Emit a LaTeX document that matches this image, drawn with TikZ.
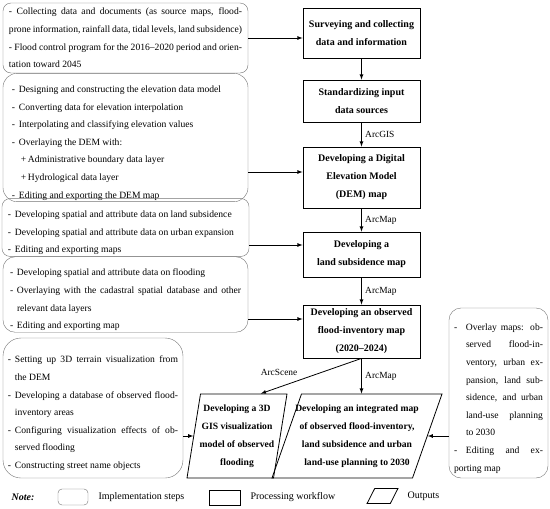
\documentclass[tikz,border=0pt]{standalone}
\usepackage{fontspec}
\setmainfont{Liberation Serif}
\usetikzlibrary{shapes.geometric}
\newcommand{\itm}[2][7pt]{\par\noindent\hangindent=#1\hangafter=1\makebox[#1][l]{-}#2}
\newcommand{\subitm}[1]{\par\noindent\hangindent=16pt\hangafter=1\hspace*{9pt}\makebox[7pt][l]{+}#1}
\tikzset{
	implbox/.style={draw=black!55,rounded corners=8pt,inner xsep=6pt,inner ysep=1.5pt,align=justify,font=\fontsize{9.6}{17.6}\selectfont},
	procbox/.style={draw,line width=0.8pt,minimum width=117pt,align=center,font=\fontsize{10}{18}\selectfont\bfseries},
	outbox/.style={trapezium,draw,line width=0.8pt,trapezium stretches body,minimum height=84pt,align=center,font=\fontsize{9.6}{18}\selectfont\bfseries},
	tool/.style={font=\fontsize{9.4}{10}\selectfont},
	keytext/.style={font=\fontsize{10}{12}\selectfont,anchor=west},
	flow/.style={->,>=latex,line width=0.8pt}
}

\begin{document}
\begin{tikzpicture}[x=1pt,y=-1pt]
	\useasboundingbox (0,0) rectangle (550,509);

	\node [implbox,text width=233pt,minimum width=245pt,minimum height=70pt] (collectbox) at (125.5,38) {- Collecting data and documents (as source maps, flood-\linebreak prone information, rainfall data, tidal levels, land subsidence)\\- Flood control program for the 2016--2020 period and orien-\linebreak tation toward 2045};
	\node [implbox,text width=227pt,minimum width=245pt,minimum height=121pt,rounded corners=14pt] (dembox) at (125.5,137.5) {\itm{Designing and constructing the elevation data model}\itm{Converting data for elevation interpolation}\itm{Interpolating and classifying elevation values}\itm{Overlaying the DEM with:}\subitm{Administrative boundary data layer}\subitm{Hydrological data layer}\itm{Editing and exporting the DEM map}};
	\node [implbox,text width=235pt,minimum width=245pt,minimum height=51pt] (subsbox) at (125.5,227.5) {\itm{Developing spatial and attribute data on land subsidence}\itm{Developing spatial and attribute data on urban expansion}\itm{Editing and exporting maps}};
	\node [implbox,text width=231pt,minimum width=245pt,minimum height=75pt,rounded corners=12pt] (floodbox) at (125.5,294.5) {\itm{Developing spatial and attribute data on flooding}\itm{Overlaying with the cadastral spatial database and other\linebreak relevant data layers}\itm{Editing and exporting map}};
	\node [implbox,text width=170pt,inner xsep=5pt,minimum width=180pt,minimum height=140pt,rounded corners=18pt] (visbox) at (93,408) {\itm{Setting up 3D terrain visualization from\linebreak the DEM}\itm{Developing a database of observed flood-\linebreak inventory areas}\itm{Configuring visualization effects of ob-\linebreak served flooding}\itm{Constructing street name objects}};
	\node [implbox,text width=89pt,inner xsep=5pt,minimum width=99pt,minimum height=170pt,rounded corners=12pt] (integbox) at (498.5,393) {\itm[12pt]{Overlay maps: ob-\linebreak served flood-in-\linebreak ventory, urban ex-\linebreak pansion, land sub-\linebreak sidence, and urban\linebreak land-use planning\linebreak to 2030}\itm[12pt]{Editing and ex-\linebreak porting map}};

	\node [procbox,minimum height=50pt] (survey) at (361.5,33) {Surveying and collecting\\data and information};
	\node [procbox,minimum height=42pt] (standard) at (361.5,101) {Standardizing input\\data sources};
	\node [procbox,minimum height=61pt] (dem) at (361.5,177.5) {Developing a Digital\\Elevation Model\\(DEM) map};
	\node [procbox,minimum height=45pt] (subs) at (361.5,254.5) {Developing a\\land subsidence map};
	\node [procbox,minimum height=53pt] (flood) at (361.5,331.5) {Developing an observed\\flood-inventory map\\(2020--2024)};
	\node [outbox,trapezium left angle=79,trapezium right angle=101,minimum width=100pt,inner xsep=-5pt] (vis) at (237,436) {Developing a 3D\\GIS visualization\\model of observed\\flooding};
	\node [outbox,trapezium left angle=67,trapezium right angle=113,minimum width=170pt,inner xsep=-14pt] (integ) at (357,436) {Developing an integrated map\\of observed flood-inventory,\\land subsidence and urban\\land-use planning to 2030};

	\draw [flow] (collectbox.east) -- (collectbox.east -| survey.west);
	\draw [flow] (survey) -- (standard);
	\draw [flow] (standard) -- (dem) node [midway,right,tool] {ArcGIS};
	\draw [flow] (dembox.east |- 0,172) -- (dem.west |- 0,172);
	\draw [flow] (dem) -- (subs) node [midway,right,tool] {ArcMap};
	\draw [flow] (subsbox.east |- 0,245) -- (subs.west |- 0,245);
	\draw [flow] (subs) -- (flood) node [midway,right,tool] {ArcMap};
	\draw [flow] (floodbox.east |- 0,319) -- (flood.west |- 0,319);
	\draw [flow] (flood.south) -- ([xshift=17pt]vis.top side) node [pos=0.6,above left,tool] {ArcScene};
	\draw [flow] (flood.south) -- (flood.south |- integ.top side) node [midway,right,tool] {ArcMap};
	\draw [flow] (visbox.east |- vis.left side) -- (vis.left side);
	\draw [flow] (integbox.west |- integ.right side) -- (integ.right side);

	\node [font=\fontsize{10}{12}\selectfont\bfseries\itshape] (note) at (23,497) {Note:};
	\node [implbox,minimum width=30pt,minimum height=16pt,rounded corners=4pt] (implkey) at (73,497) {};
	\node [keytext] (impltext) at (95,497) {Implementation steps};
	\node [procbox,minimum width=31pt,minimum height=15pt] (prockey) at (224.5,497.5) {};
	\node [keytext] (proctext) at (247,497) {Processing workflow};
	\node [outbox,trapezium left angle=63,trapezium right angle=117,minimum width=0pt,minimum height=0pt,inner xsep=7.8pt,inner ysep=7.5pt] (outkey) at (382.5,496) {};
	\node [keytext] (outtext) at (404,496) {Outputs};
\end{tikzpicture}
\end{document}
